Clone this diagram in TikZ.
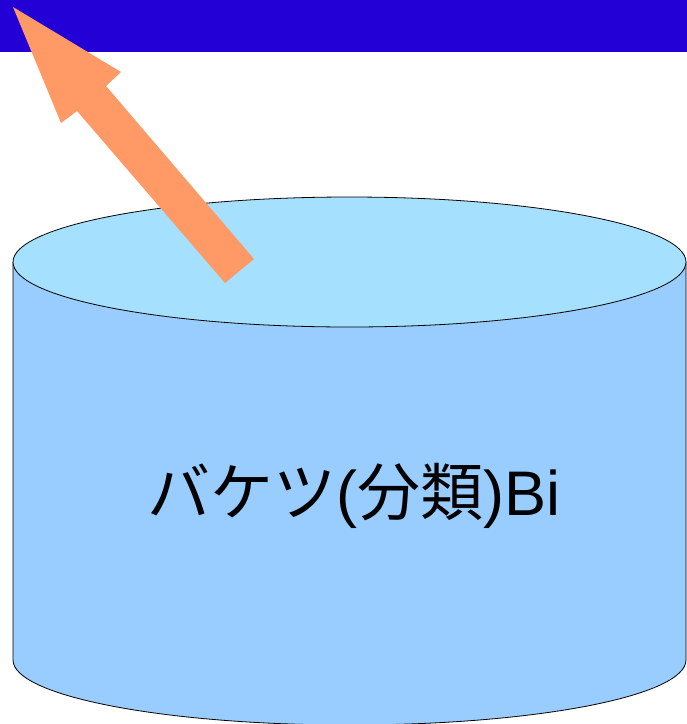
\documentclass[tikz,border=0pt]{standalone}
\usepackage{fontspec}
\setmainfont{Liberation Sans}
\newfontfamily\jpfont{Noto Sans CJK JP}
\definecolor{barblue}{RGB}{34,0,214}
\definecolor{topcol}{RGB}{166,224,255}
\definecolor{bodycol}{RGB}{153,204,255}
\definecolor{arrowcol}{RGB}{255,153,102}
\tikzset{
  cylline/.style={draw=black, line width=0.8pt},
  label/.style={font=\fontsize{63}{70}\selectfont, inner sep=0pt, anchor=base}
}
\begin{document}
\begin{tikzpicture}[x=1pt,y=-1pt]
\useasboundingbox (0,0) rectangle (687,724);
\clip (0,0) rectangle (687,724);
% top bar
\fill[barblue] (0,0) rectangle (687,52);
% cylinder body
\path[fill=bodycol, cylline] (13,262) -- (13,660) arc[start angle=180, end angle=0, x radius=336.5, y radius=65] -- (686,262);
% top ellipse
\path[fill=topcol, cylline] (349.5,262) ellipse[x radius=336.5, y radius=65];
% label
\node[label] (lbl) at (354,515) {{\jpfont バケツ}({\jpfont 分類})Bi};
% arrow
\fill[arrowcol] (13,7) -- (121,72) -- (106,86) -- (254,259) -- (225,283) -- (77,111) -- (61,123) -- cycle;
\end{tikzpicture}
\end{document}
